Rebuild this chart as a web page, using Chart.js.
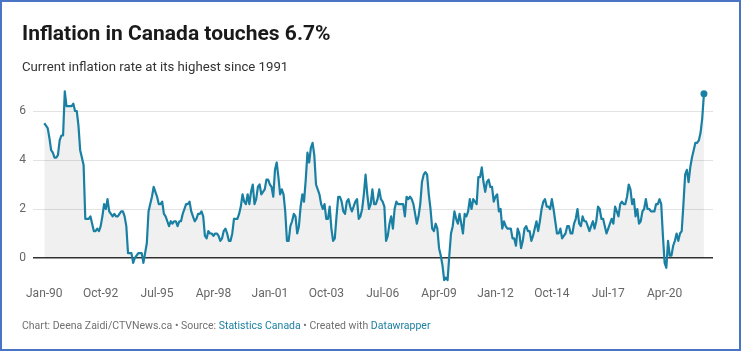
<!DOCTYPE html>
<html>
<head>
<meta charset="utf-8">
<script src="https://cdn.jsdelivr.net/npm/chart.js@4"></script>
<style>
  html, body { margin: 0; padding: 0; background: #fff; }
  body { width: 743px; height: 352px; position: relative; overflow: hidden; font-family: Roboto, sans-serif; }
  #frame { position: absolute; left: 0; top: 0; width: 741px; height: 351px; box-sizing: border-box; border: 2px solid #4a74c4; }
  #title { position: absolute; left: 22px; top: 23px; font-size: 21px; line-height: 21px; font-weight: bold; color: #1a1a1a; white-space: nowrap; }
  #subtitle { position: absolute; left: 22px; top: 60px; font-size: 13.2px; line-height: 13px; color: #333; white-space: nowrap; }
  #footer { position: absolute; left: 22px; top: 320px; font-size: 10.5px; line-height: 11px; color: #707070; white-space: nowrap; }
  #footer span { color: #1d81a2; }
  #myChart { position: absolute; left: 0; top: 0; }
</style>
</head>
<body>
<canvas id="myChart" width="743" height="352"></canvas>
<div id="title">Inflation in Canada touches 6.7%</div>
<div id="subtitle">Current inflation rate at its highest since 1991</div>
<div id="footer">Chart: Deena Zaidi/CTVNews.ca • Source: <span>Statistics Canada</span> • Created with <span>Datawrapper</span></div>
<div id="frame"></div>
<script>
    // monthly CPI, 12-month % change, Jan 1990 - Mar 2022
    var startYear = 1990;
    var monthNames = ['Jan','Feb','Mar','Apr','May','Jun','Jul','Aug','Sep','Oct','Nov','Dec'];
    var inflation = [
      5.5,5.4,5.3,4.9,4.4,4.3,4.1,4.1,4.2,4.8,5.0,5.0,   // 1990
      6.8,6.2,6.2,6.2,6.2,6.3,6.0,6.0,5.4,4.4,4.1,3.8,   // 1991
      1.6,1.6,1.6,1.7,1.4,1.1,1.1,1.2,1.1,1.3,1.7,2.2,   // 1992
      2.0,2.4,1.9,1.8,1.7,1.8,1.7,1.7,1.8,1.9,1.9,1.7,   // 1993
      1.3,0.2,0.2,0.2,-0.2,0.0,0.1,0.2,0.2,0.2,-0.2,0.2, // 1994
      0.6,1.9,2.2,2.5,2.9,2.7,2.5,2.2,2.2,2.3,1.8,1.7,   // 1995
      1.5,1.3,1.5,1.4,1.5,1.5,1.3,1.5,1.5,1.8,2.0,2.2,   // 1996
      2.2,2.3,1.9,1.7,1.5,1.6,1.8,1.8,1.9,1.7,0.9,0.8,   // 1997
      1.1,1.0,1.0,0.9,1.0,1.0,0.9,0.7,0.8,1.1,1.2,1.0,   // 1998
      0.7,0.7,1.0,1.6,1.6,1.6,1.8,2.1,2.6,2.3,2.2,2.6,   // 1999
      2.2,2.7,3.0,2.2,2.4,2.9,3.0,2.6,2.7,2.8,3.2,3.2,   // 2000
      3.0,2.9,2.5,3.6,3.9,3.3,2.6,2.8,2.6,1.9,0.7,0.7,   // 2001
      1.3,1.5,1.8,1.7,1.0,1.3,2.1,2.6,2.3,3.2,4.3,3.9,   // 2002
      4.5,4.7,4.2,3.0,2.8,2.6,2.2,2.0,2.2,1.6,1.6,2.1,   // 2003
      1.2,0.7,0.8,1.7,2.5,2.5,2.3,1.9,1.8,2.3,2.4,2.1,   // 2004
      1.9,2.1,2.3,2.4,1.6,1.7,2.0,2.6,3.4,2.6,2.0,2.2,   // 2005
      2.8,2.2,2.2,2.4,2.8,2.4,2.3,2.1,0.7,0.9,1.4,1.7,   // 2006
      1.2,2.0,2.3,2.2,2.2,2.2,2.2,1.7,2.5,2.4,2.5,2.4,   // 2007
      2.2,1.8,1.4,1.7,2.2,3.1,3.4,3.5,3.4,2.6,2.0,1.2,   // 2008
      1.1,1.4,1.2,0.4,0.1,-0.3,-0.9,-0.8,-0.9,0.1,1.0,1.3, // 2009
      1.9,1.6,1.4,1.8,1.4,1.0,1.8,1.7,1.9,2.4,2.0,2.4,   // 2010
      2.3,2.2,3.3,3.3,3.7,3.1,2.7,3.1,3.2,2.9,2.9,2.3,   // 2011
      2.5,2.6,1.9,2.0,1.2,1.5,1.3,1.2,1.2,1.2,0.8,0.8,   // 2012
      0.5,1.2,1.0,0.4,0.7,1.2,1.3,1.1,1.1,0.7,0.9,1.2,   // 2013
      1.5,1.1,1.5,2.0,2.3,2.4,2.1,2.1,2.0,2.4,2.0,1.5,   // 2014
      1.0,1.0,1.2,0.8,0.9,1.0,1.3,1.3,1.0,1.0,1.4,1.6,   // 2015
      2.0,1.4,1.3,1.7,1.5,1.5,1.3,1.1,1.3,1.5,1.2,1.5,   // 2016
      2.1,2.0,1.6,1.6,1.3,1.0,1.2,1.4,1.6,1.4,2.1,1.9,   // 2017
      1.7,2.2,2.3,2.2,2.2,2.5,3.0,2.8,2.2,2.4,1.7,2.0,   // 2018
      1.4,1.5,1.9,2.0,2.4,2.0,2.0,1.9,1.9,1.9,2.2,2.2,   // 2019
      2.4,2.2,0.9,-0.2,-0.4,0.7,0.1,0.1,0.5,0.7,1.0,0.7, // 2020
      1.0,1.1,2.2,3.4,3.6,3.1,3.7,4.1,4.4,4.7,4.7,4.8,   // 2021
      5.1,5.7,6.7                                        // 2022
    ];
    var tickLabels = ['Jan-90','Oct-92','Jul-95','Apr-98','Jan-01','Oct-03','Jul-06','Apr-09','Jan-12','Oct-14','Jul-17','Apr-20'];
    var yTicks = [0, 2, 4, 6];

    var months = inflation.map(function(v, i) {
      return monthNames[i % 12] + '-' + String(startYear + Math.floor(i / 12)).slice(2);
    });
    var points = inflation.map(function(v, i) { return { x: i, y: v }; });
    var last = inflation.length - 1;

    var ctx = document.getElementById('myChart').getContext('2d');
    var chart = new Chart(ctx, {
        type: 'line',
        data: {
            labels: months,
            datasets: [{
                label: 'Inflation',
                data: points,
                borderColor: '#1a80a3',
                backgroundColor: '#1a80a3',
                borderWidth: 2.2,
                borderJoinStyle: 'round',
                tension: 0,
                fill: { target: 'origin', above: 'rgba(0,0,0,0.06)', below: 'rgba(0,0,0,0.06)' },
                pointRadius: function(c) { return c.dataIndex === last ? 3.5 : 0; },
                pointBorderWidth: 0,
                pointHoverRadius: 0
            }]
        },
        options: {
            responsive: false,
            animation: false,
            devicePixelRatio: 1,
            layout: { padding: { left: 0, right: 30, top: 86.5, bottom: 0 } },
            plugins: { legend: { display: false }, tooltip: { enabled: false } },
            scales: {
                x: {
                    type: 'linear',
                    min: -6.6,
                    max: 391.3,
                    afterFit: function(s) { s.height = 69.5; },
                    afterBuildTicks: function(s) {
                        s.ticks = tickLabels.map(function(t, i) { return { value: i * 33 }; });
                    },
                    grid: { display: false, drawTicks: false },
                    border: { display: false },
                    ticks: {
                        autoSkip: false,
                        maxRotation: 0,
                        padding: 4,
                        color: '#666',
                        font: { family: 'Roboto', size: 12 },
                        callback: function(v, i) { return tickLabels[i]; }
                    }
                },
                y: {
                    min: -1,
                    max: 7,
                    afterFit: function(s) { s.width = 33; },
                    afterBuildTicks: function(s) {
                        s.ticks = yTicks.map(function(v) { return { value: v }; });
                    },
                    grid: {
                        drawTicks: false,
                        color: function(c) { return c.tick && c.tick.value === 0 ? '#333' : '#e3e3e3'; },
                        lineWidth: function(c) { return c.tick && c.tick.value === 0 ? 1.5 : 1; }
                    },
                    border: { display: false },
                    ticks: {
                        padding: 7,
                        color: '#666',
                        font: { family: 'Roboto', size: 12 }
                    }
                }
            }
        }
    });
</script>
</body>
</html>
